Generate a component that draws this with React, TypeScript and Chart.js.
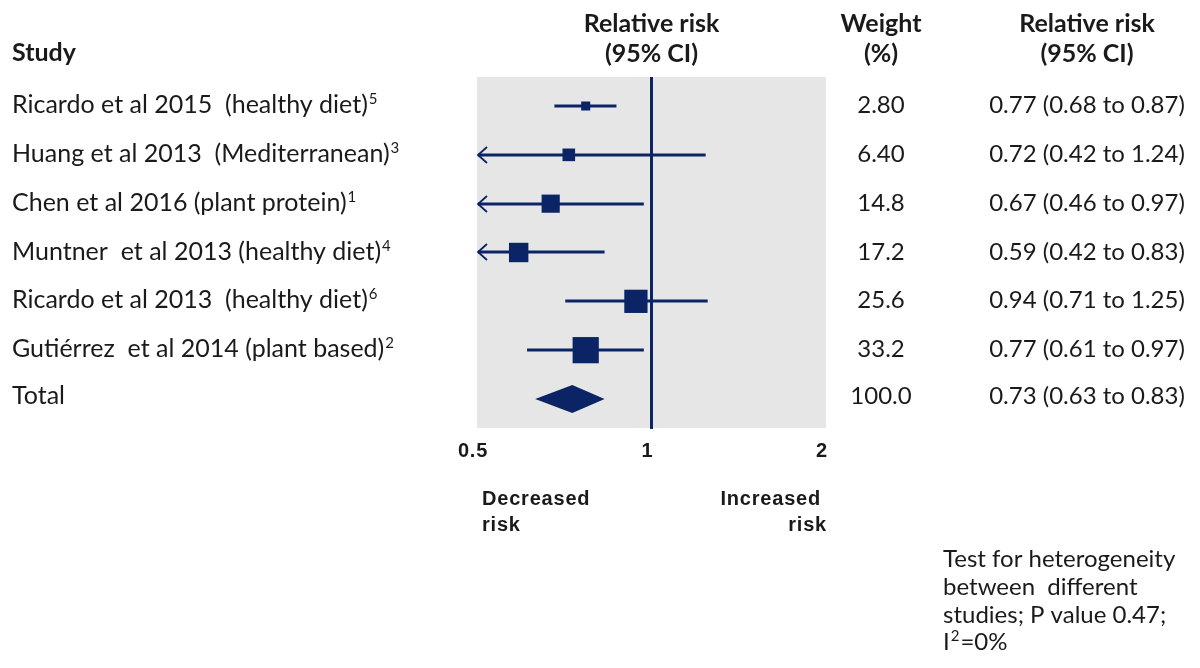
import React, { useEffect, useRef } from "react";
import { Chart, registerables } from "chart.js";

Chart.register(...registerables);

// ---- data ----
const studyNames = [
  "Ricardo et al 2015  (healthy diet)",
  "Huang et al 2013  (Mediterranean)",
  "Chen et al 2016 (plant protein)",
  "Muntner  et al 2013 (healthy diet)",
  "Ricardo et al 2013  (healthy diet)",
  "Gutiérrez  et al 2014 (plant based)",
];
const studyRefs = ["5", "3", "1", "4", "6", "2"];
const riskEstimates = [0.77, 0.72, 0.67, 0.59, 0.94, 0.77];
const lowerCI = [0.68, 0.42, 0.46, 0.42, 0.71, 0.61];
const upperCI = [0.87, 1.24, 0.97, 0.83, 1.25, 0.97];
const weights = [2.8, 6.4, 14.8, 17.2, 25.6, 33.2];
const weightLabels = ["2.80", "6.40", "14.8", "17.2", "25.6", "33.2"];

const totalName = "Total";
const totalEstimate = 0.73;
const totalLower = 0.63;
const totalUpper = 0.83;
const totalWeightLabel = "100.0";

const axisTicks = [0.5, 1, 2];
const axisTickLabels = ["0.5", "1", "2"];

// ---- styles ----
const NAVY = "#0b2466";
const PANEL = "#e6e6e6";
const TEXT = "#1a1a1a";
const BODY_FONT = "Lato, 'Open Sans', sans-serif";
const AXIS_FONT = "'Liberation Sans', Arial, sans-serif";

const fmt = (v: number) => v.toFixed(2);
const ciLabel = (e: number, lo: number, hi: number) => `${fmt(e)} (${fmt(lo)} to ${fmt(hi)})`;
const markerSide = (w: number) => 4.2 * Math.sqrt(w) + 2;

const forestPlugin = {
  id: "forestPlot",
  beforeDatasetsDraw(chart: any) {
    const { ctx, chartArea: a, scales } = chart;
    const x = scales.x;
    const y = scales.y;
    ctx.save();
    ctx.fillStyle = PANEL;
    ctx.fillRect(a.left, a.top, a.right - a.left, a.bottom - a.top);

    ctx.strokeStyle = NAVY;
    ctx.lineCap = "butt";
    riskEstimates.forEach((_, i) => {
      const py = Math.round(y.getPixelForValue(i));
      const clipped = lowerCI[i] < x.min;
      const x0 = x.getPixelForValue(Math.max(lowerCI[i], x.min)) + (clipped ? 1 : 0);
      const x1 = x.getPixelForValue(Math.min(upperCI[i], x.max));
      ctx.lineWidth = 3;
      ctx.beginPath();
      ctx.moveTo(x0, py);
      ctx.lineTo(x1, py);
      ctx.stroke();
      if (clipped) {
        ctx.lineWidth = 1.8;
        ctx.beginPath();
        ctx.moveTo(x0 + 9, py - 8);
        ctx.lineTo(x0, py);
        ctx.lineTo(x0 + 9, py + 8);
        ctx.stroke();
      }
    });

    // line of no effect
    const nx = x.getPixelForValue(1);
    ctx.lineWidth = 3;
    ctx.beginPath();
    ctx.moveTo(nx, a.top);
    ctx.lineTo(nx, a.bottom + 1);
    ctx.stroke();

    // pooled estimate diamond
    const ty = y.getPixelForValue(riskEstimates.length);
    ctx.fillStyle = NAVY;
    ctx.beginPath();
    ctx.moveTo(x.getPixelForValue(totalLower), ty);
    ctx.lineTo(x.getPixelForValue(totalEstimate), ty - 14);
    ctx.lineTo(x.getPixelForValue(totalUpper), ty);
    ctx.lineTo(x.getPixelForValue(totalEstimate), ty + 14);
    ctx.closePath();
    ctx.fill();
    ctx.restore();
  },
  afterDraw(chart: any) {
    const { ctx, chartArea: a, scales } = chart;
    const x = scales.x;
    const y = scales.y;
    const studyX = 12;
    const weightX = 881;
    const rrX = 1087;
    const plotMid = x.getPixelForValue(1);

    ctx.save();
    ctx.fillStyle = TEXT;
    ctx.textBaseline = "alphabetic";

    // column headers
    ctx.font = `bold 25px ${BODY_FONT}`;
    ctx.textAlign = "left";
    ctx.fillText("Study", studyX, 61);
    ctx.textAlign = "center";
    ctx.fillText("Relative risk", plotMid, 32);
    ctx.fillText("(95% CI)", plotMid, 62);
    ctx.fillText("Weight", weightX, 32);
    ctx.fillText("(%)", weightX, 62);
    ctx.fillText("Relative risk", rrX, 32);
    ctx.fillText("(95% CI)", rrX, 62);

    // rows
    const rowBase = (i: number) => y.getPixelForValue(i) + 7;
    studyNames.forEach((name, i) => {
      const by = rowBase(i);
      ctx.font = `25px ${BODY_FONT}`;
      ctx.textAlign = "left";
      ctx.fillText(name, studyX, by);
      const w = ctx.measureText(name).width;
      ctx.font = `15px ${BODY_FONT}`;
      ctx.fillText(studyRefs[i], studyX + w + 1, by - 9);
      ctx.font = `24px ${BODY_FONT}`;
      ctx.textAlign = "center";
      ctx.fillText(weightLabels[i], weightX, by);
      ctx.fillText(ciLabel(riskEstimates[i], lowerCI[i], upperCI[i]), rrX, by);
    });
    const tb = rowBase(studyNames.length) - 2;
    ctx.font = `25px ${BODY_FONT}`;
    ctx.textAlign = "left";
    ctx.fillText(totalName, studyX, tb);
    ctx.font = `24px ${BODY_FONT}`;
    ctx.textAlign = "center";
    ctx.fillText(totalWeightLabel, weightX, tb);
    ctx.fillText(ciLabel(totalEstimate, totalLower, totalUpper), rrX, tb);

    // axis tick labels and direction captions
    ctx.font = `bold 20px ${AXIS_FONT}`;
    (ctx as any).letterSpacing = "0.8px";
    ctx.textAlign = "center";
    axisTicks.forEach((t, i) => {
      ctx.fillText(axisTickLabels[i], x.getPixelForValue(t) - 4, a.bottom + 29);
    });
    ctx.textAlign = "left";
    ctx.fillText("Decreased", a.left + 5, a.bottom + 77);
    ctx.fillText("risk", a.left + 5, a.bottom + 103);
    ctx.textAlign = "right";
    ctx.fillText("Increased", a.right - 5, a.bottom + 77);
    ctx.fillText("risk", a.right + 1, a.bottom + 103);
    (ctx as any).letterSpacing = "0px";

    // heterogeneity note
    ctx.font = `24px ${BODY_FONT}`;
    ctx.textAlign = "left";
    const noteX = 943;
    ctx.fillText("Test for heterogeneity", noteX, 567);
    ctx.fillText("between  different", noteX, 595);
    ctx.fillText("studies; P value 0.47;", noteX, 623);
    ctx.fillText("I", noteX, 650);
    const iw = ctx.measureText("I").width;
    ctx.font = `15px ${BODY_FONT}`;
    ctx.fillText("2", noteX + iw + 1, 641);
    const sw = ctx.measureText("2").width;
    ctx.font = `24px ${BODY_FONT}`;
    ctx.fillText("=0%", noteX + iw + sw + 2, 650);
    ctx.restore();
  },
};

export default function App() {
  const canvasRef = useRef<HTMLCanvasElement | null>(null);

  useEffect(() => {
    document.body.style.margin = "0";
    const canvas = canvasRef.current;
    if (!canvas) return;
    const chart = new Chart(canvas, {
      type: "scatter",
      data: {
        datasets: [
          {
            label: "Relative risk",
            data: riskEstimates.map((e, i) => ({ x: e, y: i })),
            pointStyle: "rect",
            pointRadius: weights.map((w) => markerSide(w) / Math.SQRT2),
            pointHoverRadius: weights.map((w) => markerSide(w) / Math.SQRT2),
            backgroundColor: NAVY,
            borderWidth: 0,
          },
        ],
      },
      options: {
        responsive: false,
        animation: false,
        events: [],
        layout: { padding: { left: 477, right: 374, top: 77, bottom: 240 } },
        plugins: { legend: { display: false }, tooltip: { enabled: false } },
        scales: {
          x: { type: "logarithmic", min: 0.5, max: 2, display: false },
          y: { type: "linear", min: -0.594, max: 6.594, reverse: true, display: false },
        },
      },
      plugins: [forestPlugin],
    });
    return () => chart.destroy();
  }, []);

  return (
    <div style={{ position: "absolute", left: 0, top: 0, width: 1200, height: 668, background: "#fff" }}>
      <canvas ref={canvasRef} width={1200} height={668} style={{ display: "block" }} />
    </div>
  );
}
